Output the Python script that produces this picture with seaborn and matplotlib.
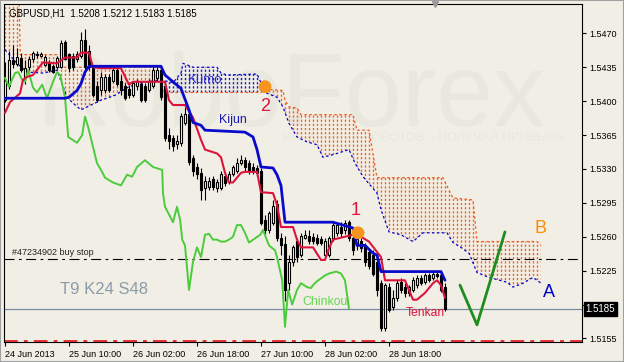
import numpy as np
import matplotlib
matplotlib.use("Agg")
import matplotlib.pyplot as plt
import matplotlib.transforms as mtransforms
from matplotlib.patches import Polygon, Rectangle
from matplotlib import font_manager
import seaborn as sns

# ---------------- data ----------------
symbol_title = "GBPUSD,H1  1.5208 1.5212 1.5183 1.5185"

open_ = [1.5401, 1.5416, 1.5442, 1.5438, 1.5445, 1.5425, 1.5435, 1.5444, 1.5449, 1.5447,
         1.5437, 1.5440, 1.5436, 1.5435, 1.5435, 1.5461, 1.5449, 1.5447, 1.5444, 1.5447,
         1.5463, 1.5452, 1.5434, 1.5416, 1.5411, 1.5411, 1.5425, 1.5421, 1.5432, 1.5421,
         1.5416, 1.5413, 1.5406, 1.5416, 1.5418, 1.5416, 1.5411, 1.5416, 1.5424, 1.5432,
         1.5416, 1.5365, 1.5362, 1.5356, 1.5357, 1.5377, 1.5387, 1.5341, 1.5332, 1.5326,
         1.5310, 1.5311, 1.5320, 1.5310, 1.5310, 1.5323, 1.5317, 1.5325, 1.5328, 1.5336,
         1.5339, 1.5336, 1.5332, 1.5331, 1.5328, 1.5277, 1.5267, 1.5274, 1.5294, 1.5259,
         1.5253, 1.5212, 1.5234, 1.5256, 1.5241, 1.5259, 1.5261, 1.5260, 1.5259, 1.5258,
         1.5241, 1.5241, 1.5259, 1.5264, 1.5270, 1.5267, 1.5275, 1.5259, 1.5251, 1.5256,
         1.5251, 1.5244, 1.5241, 1.5234, 1.5212, 1.5166, 1.5208, 1.5187, 1.5197, 1.5213,
         1.5208, 1.5202, 1.5205, 1.5210, 1.5217, 1.5213, 1.5220, 1.5217, 1.5222, 1.5220,
         1.5208]
high = [1.5440, 1.5452, 1.5458, 1.5455, 1.5450, 1.5442, 1.5447, 1.5452, 1.5452, 1.5451,
        1.5448, 1.5442, 1.5438, 1.5447, 1.5463, 1.5463, 1.5450, 1.5450, 1.5452, 1.5471,
        1.5475, 1.5458, 1.5437, 1.5421, 1.5430, 1.5428, 1.5428, 1.5436, 1.5434, 1.5427,
        1.5419, 1.5417, 1.5421, 1.5423, 1.5421, 1.5419, 1.5423, 1.5437, 1.5437, 1.5434,
        1.5418, 1.5372, 1.5365, 1.5365, 1.5388, 1.5394, 1.5392, 1.5344, 1.5336, 1.5331,
        1.5323, 1.5322, 1.5323, 1.5320, 1.5328, 1.5326, 1.5328, 1.5334, 1.5341, 1.5344,
        1.5342, 1.5339, 1.5336, 1.5334, 1.5331, 1.5282, 1.5287, 1.5298, 1.5298, 1.5264,
        1.5261, 1.5241, 1.5251, 1.5259, 1.5264, 1.5267, 1.5267, 1.5264, 1.5263, 1.5261,
        1.5259, 1.5261, 1.5275, 1.5275, 1.5275, 1.5277, 1.5277, 1.5263, 1.5261, 1.5259,
        1.5254, 1.5248, 1.5246, 1.5238, 1.5215, 1.5212, 1.5212, 1.5205, 1.5215, 1.5217,
        1.5212, 1.5210, 1.5218, 1.5220, 1.5220, 1.5223, 1.5223, 1.5225, 1.5225, 1.5223,
        1.5212]
low = [1.5399, 1.5413, 1.5434, 1.5436, 1.5430, 1.5418, 1.5432, 1.5440, 1.5445, 1.5446,
       1.5436, 1.5430, 1.5429, 1.5433, 1.5434, 1.5442, 1.5430, 1.5432, 1.5440, 1.5445,
       1.5433, 1.5432, 1.5404, 1.5399, 1.5406, 1.5408, 1.5409, 1.5420, 1.5416, 1.5406,
       1.5401, 1.5403, 1.5404, 1.5411, 1.5399, 1.5399, 1.5409, 1.5414, 1.5421, 1.5401,
       1.5359, 1.5351, 1.5349, 1.5351, 1.5354, 1.5375, 1.5334, 1.5323, 1.5320, 1.5298,
       1.5298, 1.5308, 1.5308, 1.5306, 1.5308, 1.5312, 1.5314, 1.5323, 1.5326, 1.5334,
       1.5328, 1.5325, 1.5325, 1.5323, 1.5272, 1.5263, 1.5264, 1.5272, 1.5256, 1.5241,
       1.5194, 1.5205, 1.5230, 1.5234, 1.5239, 1.5258, 1.5253, 1.5253, 1.5251, 1.5251,
       1.5239, 1.5239, 1.5256, 1.5261, 1.5260, 1.5263, 1.5256, 1.5241, 1.5246, 1.5244,
       1.5230, 1.5227, 1.5219, 1.5199, 1.5163, 1.5163, 1.5182, 1.5184, 1.5194, 1.5202,
       1.5198, 1.5199, 1.5203, 1.5207, 1.5210, 1.5211, 1.5213, 1.5215, 1.5217, 1.5203,
       1.5183]
close = [1.5421, 1.5442, 1.5438, 1.5446, 1.5432, 1.5434, 1.5444, 1.5450, 1.5448, 1.5449,
         1.5446, 1.5432, 1.5430, 1.5445, 1.5460, 1.5444, 1.5434, 1.5435, 1.5449, 1.5463,
         1.5435, 1.5435, 1.5406, 1.5401, 1.5425, 1.5425, 1.5411, 1.5432, 1.5418, 1.5411,
         1.5403, 1.5406, 1.5419, 1.5421, 1.5401, 1.5401, 1.5421, 1.5432, 1.5432, 1.5404,
         1.5362, 1.5359, 1.5354, 1.5359, 1.5385, 1.5387, 1.5337, 1.5328, 1.5325, 1.5308,
         1.5318, 1.5318, 1.5311, 1.5316, 1.5325, 1.5315, 1.5325, 1.5332, 1.5336, 1.5339,
         1.5332, 1.5328, 1.5328, 1.5326, 1.5274, 1.5267, 1.5284, 1.5292, 1.5259, 1.5251,
         1.5205, 1.5234, 1.5249, 1.5239, 1.5261, 1.5262, 1.5256, 1.5256, 1.5254, 1.5254,
         1.5256, 1.5259, 1.5272, 1.5272, 1.5264, 1.5274, 1.5259, 1.5246, 1.5258, 1.5248,
         1.5234, 1.5230, 1.5222, 1.5205, 1.5166, 1.5210, 1.5184, 1.5197, 1.5212, 1.5205,
         1.5202, 1.5208, 1.5215, 1.5217, 1.5212, 1.5220, 1.5215, 1.5222, 1.5219, 1.5205,
         1.5185]

tenkan_x = [0, 1.25, 3.75, 4.5, 5.5, 7, 9.5, 13, 15, 18, 19, 21, 22, 24, 29, 31, 32, 40, 41, 42, 45,
            47, 49, 50, 53, 54, 55, 56, 57, 59, 60, 63, 64, 67, 68, 69, 72, 73, 74, 77, 79, 80, 81,
            82, 87, 89, 91, 94, 95, 100, 101, 102, 103, 105, 107, 108, 109, 110]
tenkan_y = [1.5388, 1.5399, 1.5408, 1.5422, 1.5425, 1.5427, 1.5440, 1.5439, 1.5445, 1.5445, 1.5450,
            1.5450, 1.5435, 1.5434, 1.5434, 1.5417, 1.5420, 1.5420, 1.5401, 1.5396, 1.5396, 1.5383,
            1.5360, 1.5350, 1.5346, 1.5342, 1.5326, 1.5316, 1.5316, 1.5326, 1.5327, 1.5327, 1.5306,
            1.5305, 1.5293, 1.5270, 1.5270, 1.5257, 1.5249, 1.5249, 1.5236, 1.5236, 1.5248, 1.5257,
            1.5262, 1.5260, 1.5255, 1.5239, 1.5215, 1.5215, 1.5205, 1.5195, 1.5195, 1.5202, 1.5212,
            1.5215, 1.5210, 1.5197]

kijun_x = [0, 15, 16, 18, 19, 20, 21, 39, 40, 44, 46, 47, 49, 50, 60, 62, 63, 64, 67, 68, 69, 70,
           82, 87, 88, 90, 92, 93, 94, 109, 110]
kijun_y = [1.5403, 1.5403, 1.5404, 1.5411, 1.5418, 1.5430, 1.5436, 1.5436, 1.5427, 1.5413, 1.5391,
           1.5378, 1.5375, 1.5370, 1.5368, 1.5363, 1.5350, 1.5332, 1.5331, 1.5324, 1.5313, 1.5275,
           1.5275, 1.5269, 1.5251, 1.5251, 1.5243, 1.5241, 1.5224, 1.5224, 1.5215]

chinkou_x = [0, 1, 2.5, 3.3, 4.3, 5, 5.8, 7, 8, 9.3, 10.5, 12, 13, 13.8, 15, 15.8, 18, 19.3, 20, 20.8,
             23, 24, 25, 27, 29, 30.5, 31.8, 33, 35, 37, 39.3, 39.5, 40, 42, 43, 43.8, 44.3, 45, 46,
             47, 48, 49, 50, 51, 52, 53, 54, 55, 56, 57, 58, 59, 60, 61, 63.8, 64.5, 66, 67.5, 68,
             69.3, 70, 70.8, 71.8, 73, 74, 75.5, 76.5, 77, 78, 79, 80, 81, 82.8, 84, 85, 86]
chinkou_y = [1.5424, 1.5415, 1.5429, 1.5430, 1.5422, 1.5420, 1.5432, 1.5414, 1.5409, 1.5417, 1.5403,
             1.5420, 1.5430, 1.5427, 1.5404, 1.5363, 1.5357, 1.5365, 1.5384, 1.5373, 1.5336, 1.5329,
             1.5321, 1.5316, 1.5313, 1.5324, 1.5322, 1.5332, 1.5339, 1.5332, 1.5329, 1.5305, 1.5291,
             1.5275, 1.5291, 1.5277, 1.5257, 1.5251, 1.5205, 1.5234, 1.5249, 1.5239, 1.5262, 1.5263,
             1.5257, 1.5257, 1.5255, 1.5255, 1.5257, 1.5260, 1.5272, 1.5272, 1.5264, 1.5254, 1.5262,
             1.5267, 1.5251, 1.5246, 1.5239, 1.5215, 1.5167, 1.5205, 1.5190, 1.5205, 1.5212, 1.5208,
             1.5207, 1.5210, 1.5214, 1.5217, 1.5220, 1.5222, 1.5224, 1.5222, 1.5215, 1.5186]

spanA_x = [0, 3, 5.5, 9.5, 13, 14.5, 15.5, 17, 19, 20.5, 24, 27.5, 31, 35.5, 39, 42, 44, 44.5, 47, 53,
           54, 55.5, 63, 64, 65, 68, 69.5, 71, 73, 75.5, 78, 79.5, 83, 86, 87.5, 89.5, 93, 94, 96,
           99, 102, 104.5, 110.5, 112, 114, 116, 118, 121, 125.5, 127, 129.5, 132, 134]
spanA_y = [1.5453, 1.5439, 1.5430, 1.5429, 1.5432, 1.5415, 1.5404, 1.5398, 1.5391, 1.5394, 1.5401,
           1.5406, 1.5415, 1.5420, 1.5422, 1.5419, 1.5429, 1.5439, 1.5435, 1.5435, 1.5429, 1.5427,
           1.5428, 1.5419, 1.5409, 1.5404, 1.5394, 1.5377, 1.5363, 1.5358, 1.5355, 1.5342, 1.5346,
           1.5350, 1.5336, 1.5322, 1.5305, 1.5288, 1.5265, 1.5262, 1.5255, 1.5264, 1.5264, 1.5254,
           1.5249, 1.5243, 1.5223, 1.5218, 1.5213, 1.5208, 1.5212, 1.5218, 1.5212]

spanB_x = [0, 3.5, 3.8, 13, 13.5, 39, 39.5, 64, 66, 69.5, 70, 71, 73, 74, 87, 88, 91, 93, 109.5,
           111, 112, 117, 118, 133, 134]
spanB_y = [1.5512, 1.5512, 1.5448, 1.5448, 1.5435, 1.5435, 1.5409, 1.5409, 1.5412, 1.5411, 1.5401,
           1.5394, 1.5393, 1.5386, 1.5386, 1.5370, 1.5370, 1.5321, 1.5321, 1.5308, 1.5300, 1.5298,
           1.5255, 1.5255, 1.5251]
kumo_bull_bars = (40, 64)      # bars where Span A is above Span B

buy_stop_price = 1.5237
stop_price = 1.51523
last_price = 1.5185

v_x = [113.75, 118, 125]
v_y = [1.5210, 1.5169, 1.5265]

signal_x = [65, 88.25]
signal_y = [1.5415, 1.5264]

xtick_pos = [0, 16, 32, 48, 64, 80, 96]
xtick_labels = ["24 Jun 2013", "25 Jun 10:00", "26 Jun 02:00", "26 Jun 18:00",
                "27 Jun 10:00", "28 Jun 02:00", "28 Jun 18:00"]
ytick_vals = [1.5155, 1.5190, 1.5225, 1.5260, 1.5295, 1.5330, 1.5365, 1.5400, 1.5435, 1.5470]

# ---------------- style ----------------
BG = "#F1EFE5"
sns.set_style("ticks", rc={"axes.facecolor": BG, "figure.facecolor": BG,
                           "axes.edgecolor": "black"})
plt.rcParams["font.family"] = ["Liberation Sans", "DejaVu Sans"]

names = {f.name for f in font_manager.fontManager.ttflist}
wm_font = "Liberation Sans Narrow" if "Liberation Sans Narrow" in names else "Liberation Sans"

fig = plt.figure(figsize=(6.24, 3.62), dpi=100)
ax = fig.add_axes([4 / 624, 20 / 362, 578 / 624, 338 / 362])
ax.set_facecolor(BG)

o = np.array(open_); h = np.array(high); l = np.array(low); c = np.array(close)
idx = np.arange(len(c))

# watermark
ax.text(8, 1.5375, "RoboForex", fontsize=90 if wm_font.endswith("Narrow") else 74,
        family=wm_font, color="#E9E8DF", ha="left", va="baseline", zorder=0.2)
ax.text(69.5, 1.5362, "ИСПОЛЬЗУЙ РОБОТОВ – ПОЛУЧАЙ ПРИБЫЛЬ", fontsize=9,
        color="#E9E8DF", ha="left", va="center", zorder=0.2)

# cloud hatch
ORANGE = "#F0642A"
BLUE = "#1A1AC8"
poly = Polygon(np.column_stack([np.r_[spanA_x, spanB_x[::-1]],
                                np.r_[spanA_y, spanB_y[::-1]]]),
               closed=True, transform=ax.transData, fc="none", ec="none")
ax.add_patch(poly)
hb = np.arange(0, int(max(spanB_x)) + 1)
bull = (hb >= kumo_bull_bars[0]) & (hb <= kumo_bull_bars[1])
lc1 = ax.vlines(hb[~bull], 1.50, 1.56, colors=ORANGE, lw=1.0, linestyles=[(0, (1.6, 1.4))], zorder=1)
lc1.set_clip_path(poly)
lc2 = ax.vlines(hb[bull], 1.50, 1.56, colors=BLUE, lw=1.0, linestyles=[(0, (1.6, 1.4))], zorder=1)
lc2.set_clip_path(poly)

# senkou spans
sns.lineplot(x=spanA_x, y=spanA_y, ax=ax, color="#0000CC", lw=0.9, estimator=None, sort=False, zorder=1.5)
ax.get_lines()[-1].set_linestyle((0, (2, 2)))
sns.lineplot(x=spanB_x, y=spanB_y, ax=ax, color="#F05A1E", lw=0.9, estimator=None, sort=False, zorder=1.5)
ax.get_lines()[-1].set_linestyle((0, (2, 2)))

# horizontal levels
ax.axhline(last_price, color="#7A8CA2", lw=0.9, zorder=1.6)
ax.axhline(buy_stop_price, color="black", lw=0.8, ls=(0, (9, 4, 2.5, 4)), zorder=1.6)
ax.axhline(stop_price, color="#E00000", lw=1.1, ls=(0, (9, 4, 2.5, 4)), zorder=1.6)

# candles
up = c >= o
ax.vlines(idx, l, h, color="black", lw=0.8, zorder=3)
ax.bar(idx[up], c[up] - o[up], bottom=o[up], width=0.55, color="white",
       edgecolor="black", lw=0.8, zorder=4)
ax.bar(idx[~up], c[~up] - o[~up], bottom=o[~up], width=0.55, color="black",
       edgecolor="black", lw=0.8, zorder=4)

# ichimoku lines
sns.lineplot(x=chinkou_x, y=chinkou_y, ax=ax, color="#4CCB3C", lw=1.4, estimator=None, sort=False, zorder=5)
sns.lineplot(x=tenkan_x, y=tenkan_y, ax=ax, color="#DC143C", lw=1.5, estimator=None, sort=False, zorder=5)
sns.lineplot(x=kijun_x, y=kijun_y, ax=ax, color="#0A0ACD", lw=2.0, estimator=None, sort=False, zorder=5.1)

# green V
sns.lineplot(x=v_x, y=v_y, ax=ax, color="#1E8C1E", lw=2.0, estimator=None, sort=False, zorder=6)

# signal dots
ax.scatter(signal_x, signal_y, s=85, color="#F7941D", edgecolors="none", zorder=7)

# labels
ax.text(65, 1.5394, "2", color="#DC143C", fontsize=13, ha="center", va="center", zorder=8)
ax.text(87.75, 1.5287, "1", color="#DC143C", fontsize=13, ha="center", va="center", zorder=8)
ax.text(50, 1.5422, "Kumo", color="#2A2AC8", fontsize=9.5, ha="center", va="center", zorder=8)
ax.text(57, 1.5381, "Kijun", color="#1A1AB4", fontsize=9, ha="center", va="center", zorder=8)
ax.text(80, 1.5193, "Chinkou", color="#66D455", fontsize=8.8, ha="center", va="center", zorder=8)
ax.text(105, 1.5181, "Tenkan", color="#DC143C", fontsize=8.7, ha="center", va="center", zorder=8)
ax.text(133.75, 1.5269, "B", color="#FF8C00", fontsize=13, ha="center", va="center", zorder=8)
ax.text(136, 1.5202, "A", color="#0000CD", fontsize=13, ha="center", va="center", zorder=8)
ax.text(13.75, 1.5206, "T9 K24 S48", color="#8C9BAA", fontsize=12, ha="left", va="center", zorder=8)
ax.text(1.75, 1.5244, "#47234902 buy stop", color="#222222", fontsize=6.5, ha="left", va="center", zorder=8)

# axes
ax.set_xlim(-0.25, 144.25)
ax.set_ylim(1.51513, 1.55003)
ax.yaxis.tick_right()
ax.set_yticks(ytick_vals)
ax.set_yticklabels([f"{v:.4f}" for v in ytick_vals])
ax.set_xticks(xtick_pos)
ax.set_xticklabels(xtick_labels)
for lab in ax.get_xticklabels():
    lab.set_ha("left")
ax.tick_params(axis="y", direction="out", length=3, width=0.8, pad=2, labelsize=6.5, colors="black")
ax.tick_params(axis="x", direction="out", length=3, width=0.8, pad=2.5, labelsize=6.5, colors="black")
ax.set_xlabel(""); ax.set_ylabel("")
for s in ax.spines.values():
    s.set_visible(True)
    s.set_color("black")
    s.set_linewidth(0.8)

# last price box
tr = mtransforms.blended_transform_factory(ax.transAxes, ax.transData)
ax.text(1.006, last_price, f"{last_price:.4f}", transform=tr, color="white", fontsize=7,
        ha="left", va="center", clip_on=False, zorder=10,
        bbox=dict(boxstyle="square,pad=0.2", fc="black", ec="black"))

# chart shift marker
trx = mtransforms.blended_transform_factory(ax.transData, ax.transAxes)
ax.plot([107.5], [1.0], marker="v", ms=4.5, color="#9A9A9A", transform=trx, clip_on=False, zorder=10)

# title
fig.text(9 / 624, 1 - 13 / 362, symbol_title, fontsize=7, color="black", ha="left", va="center")

# window frame
fig.patches.append(Rectangle((0, 0), 1, 1, transform=fig.transFigure, fill=False,
                             ec="#A0A0A0", lw=1.5))

fig.savefig("out.png", dpi=100, facecolor=BG)
